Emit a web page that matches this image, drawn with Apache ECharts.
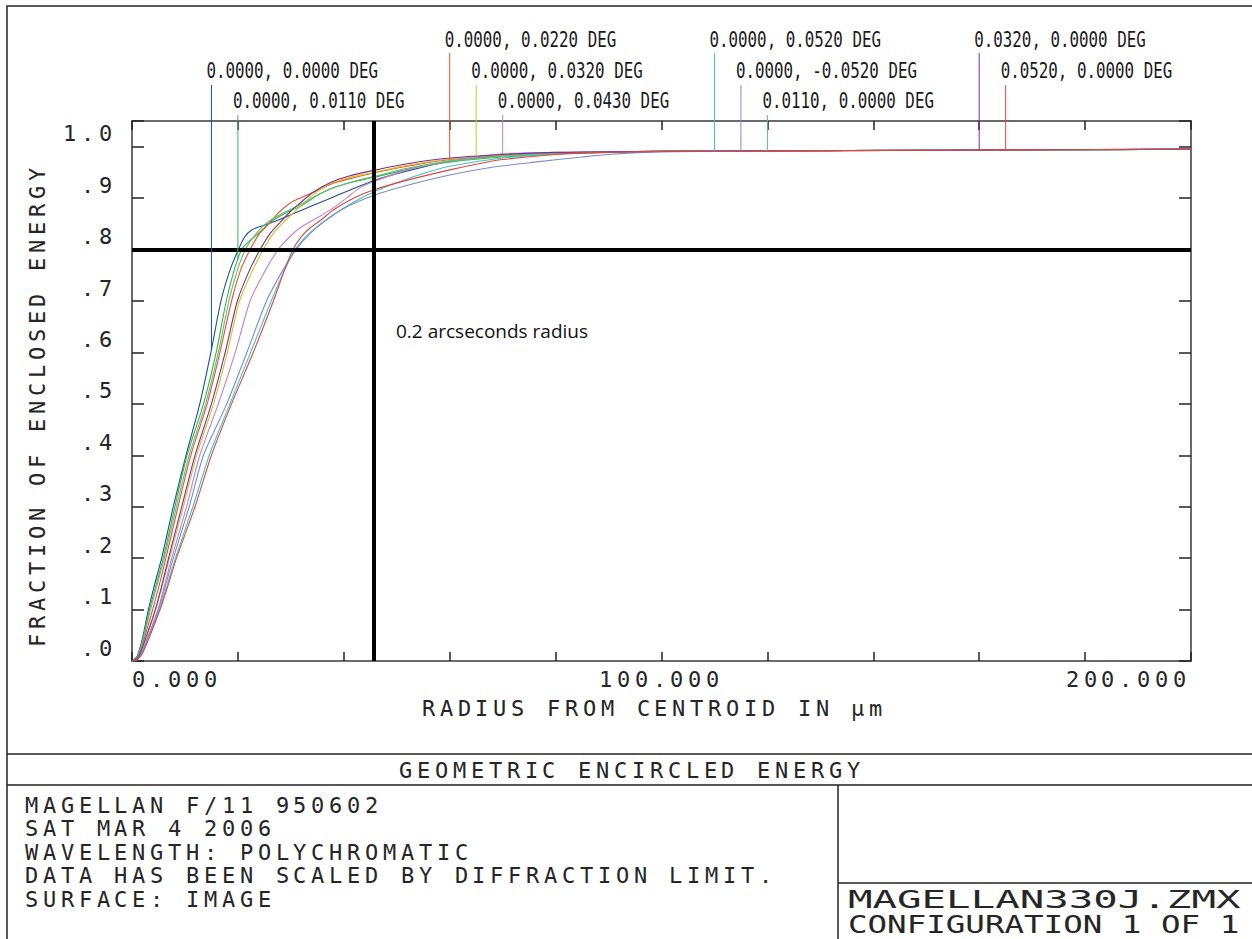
<!DOCTYPE html>
<html><head><meta charset="utf-8">
<script src="https://cdn.jsdelivr.net/npm/echarts@6/dist/echarts.min.js"></script>
<style>
@font-face { font-family: 'ZWide'; src: local('DejaVu Sans Mono'), local('DejaVuSansMono'); }
html,body{margin:0;padding:0;background:#fff;}
#chart{width:1252px;height:939px;}
text[style*="ZWide"], text[font-family*="ZWide"]{letter-spacing:4.9px;}
</style></head><body><div id="chart"></div>
<script>
// ---- data ----
const fieldNames = [
  '0.0000, 0.0000 DEG', '0.0000, 0.0110 DEG', '0.0000, 0.0220 DEG', '0.0000, 0.0320 DEG',
  '0.0000, 0.0430 DEG', '0.0000, 0.0520 DEG', '0.0000, -0.0520 DEG', '0.0110, 0.0000 DEG',
  '0.0320, 0.0000 DEG', '0.0520, 0.0000 DEG'
];
const fieldColors = ['#1b4f9c','#3db34a','#f0502a','#d4c21a','#c282d2','#3cc6c8','#7a8cd0','#5cc07a','#7a2f9a','#e8453c'];

const curveF1 = [[0,0],[1,0.01],[2,0.045],[3.1,0.1],[4.3,0.15],[5.6,0.2],[7.8,0.3],[10.2,0.4],[12.8,0.5],[14.9,0.6],[16.8,0.7],[18.5,0.76],[20.1,0.8],[21.3,0.825],[22.6,0.838],[24.5,0.846],[27.3,0.856],[31.7,0.875],[36.8,0.897],[41.2,0.916],[45.6,0.934],[52,0.953],[60,0.972],[70,0.983],[80,0.988],[90,0.99],[100,0.991],[120,0.992],[150,0.993],[200,0.995]];
const curveF2 = [[0,0],[1,0.008],[2,0.04],[3.3,0.1],[4.6,0.15],[5.9,0.2],[8.1,0.3],[10.4,0.4],[13.5,0.5],[15.9,0.6],[17.8,0.7],[19.3,0.76],[20.7,0.8],[22,0.815],[23.5,0.828],[26,0.852],[28.5,0.868],[31.7,0.884],[35,0.905],[38,0.92],[41.5,0.931],[45.6,0.94],[52,0.956],[60,0.97],[70,0.98],[80,0.986],[90,0.989],[100,0.991],[120,0.992],[150,0.993],[200,0.995]];
const curveF3 = [[0,0],[1,0.006],[2,0.033],[3.9,0.1],[5.2,0.15],[6.4,0.2],[8.7,0.3],[11.1,0.4],[14.2,0.5],[16.6,0.6],[18.8,0.7],[20.5,0.76],[22.3,0.8],[24,0.83],[25.4,0.845],[27.5,0.87],[29.8,0.89],[31.7,0.9],[35,0.915],[38,0.929],[42,0.94],[45.6,0.949],[52,0.962],[60,0.975],[70,0.983],[80,0.988],[90,0.99],[100,0.991],[120,0.992],[150,0.993],[200,0.995]];
const curveF4 = [[0,0],[1,0.005],[2,0.027],[4.5,0.1],[5.8,0.15],[7.1,0.2],[9.7,0.3],[12.2,0.4],[15.4,0.5],[18,0.6],[20.3,0.7],[22.8,0.76],[24.8,0.8],[26.6,0.83],[28.5,0.852],[31.7,0.883],[34,0.905],[36.8,0.925],[41,0.94],[45.6,0.95],[52,0.964],[60,0.976],[65,0.981],[70,0.984],[80,0.988],[90,0.99],[100,0.991],[120,0.992],[150,0.993],[200,0.995]];
const curveF5 = [[0,0],[1,0.004],[2,0.022],[4.9,0.1],[6.2,0.15],[7.5,0.2],[10.3,0.3],[12.8,0.4],[16.3,0.5],[19.5,0.6],[22.3,0.7],[25.2,0.76],[27.6,0.8],[29.5,0.822],[31.7,0.842],[35,0.862],[38,0.881],[40.5,0.9],[43,0.92],[45.6,0.932],[52,0.955],[60,0.972],[70,0.986],[80,0.989],[90,0.99],[100,0.991],[120,0.992],[150,0.993],[200,0.995]];
const curveF6 = [[0,0],[1,0.003],[2,0.017],[5.2,0.1],[6.7,0.15],[8.2,0.2],[11.5,0.3],[14.6,0.4],[18.5,0.5],[22.4,0.6],[26.3,0.7],[28.8,0.76],[30.8,0.8],[32.5,0.822],[35,0.845],[38,0.868],[42,0.893],[45.6,0.912],[50,0.93],[55,0.948],[60,0.962],[70,0.978],[80,0.986],[90,0.989],[100,0.991],[120,0.992],[150,0.993],[200,0.995]];
const curveF7 = [[0,0],[1,0.004],[2,0.02],[5,0.1],[6.4,0.15],[7.8,0.2],[10.8,0.3],[13.5,0.4],[17.9,0.5],[21.7,0.6],[25.4,0.7],[28.5,0.76],[31,0.8],[33.5,0.83],[36,0.852],[40,0.88],[45.6,0.905],[52,0.925],[60,0.945],[68,0.96],[76,0.97],[85,0.98],[90,0.985],[100,0.99],[120,0.992],[150,0.993],[200,0.995]];
const curveF8 = [[0,0],[1,0.007],[2,0.037],[3.5,0.1],[4.8,0.15],[6.1,0.2],[8.4,0.3],[10.8,0.4],[13.9,0.5],[16.3,0.6],[18.3,0.7],[19.9,0.76],[21.4,0.8],[23,0.825],[25,0.848],[28,0.868],[31.7,0.887],[35,0.906],[38,0.92],[42,0.933],[45.6,0.942],[52,0.958],[60,0.972],[70,0.982],[80,0.987],[90,0.99],[100,0.991],[120,0.992],[150,0.993],[200,0.995]];
const curveF9 = [[0,0],[1,0.005],[2,0.028],[4.4,0.1],[5.7,0.15],[6.9,0.2],[9.4,0.3],[11.9,0.4],[15,0.5],[17.6,0.6],[19.9,0.7],[22.2,0.76],[24.2,0.8],[26,0.83],[27.9,0.852],[30,0.875],[31.7,0.89],[34,0.91],[37.4,0.93],[41,0.943],[45.6,0.954],[52,0.967],[60,0.978],[70,0.985],[80,0.989],[90,0.99],[100,0.991],[120,0.992],[150,0.993],[200,0.9955]];
const curveF10 = [[0,0],[1,0.003],[2,0.015],[5.3,0.1],[6.9,0.15],[8.4,0.2],[11.9,0.3],[15,0.4],[18.8,0.5],[22.9,0.6],[26.7,0.7],[28.8,0.76],[30.4,0.8],[32,0.825],[33.6,0.842],[36,0.86],[38,0.877],[41.8,0.9],[45.6,0.916],[52,0.935],[60,0.955],[65,0.966],[70,0.975],[80,0.985],[90,0.989],[100,0.991],[120,0.992],[150,0.993],[200,0.9955]];
const curves = [curveF1,curveF2,curveF3,curveF4,curveF5,curveF6,curveF7,curveF8,curveF9,curveF10];

const refRadius = 45.6;      // thick vertical line (µm)
const refFraction = 0.8;     // thick horizontal line
const refNote = '0.2 arcseconds radius';

const xTickLabelsFmt = v => v.toFixed(3);
const yTickLabelsFmt = v => v > 1.02 ? '' : (v >= 0.995 ? '1.0' : '.' + Math.round(v * 10));

const titleText = 'GEOMETRIC ENCIRCLED ENERGY';
const infoLines = ['MAGELLAN F/11 950602','SAT MAR 4 2006','WAVELENGTH: POLYCHROMATIC','DATA HAS BEEN SCALED BY DIFFRACTION LIMIT.','SURFACE: IMAGE'];
const fileLines = ['MAGELLAN330J.ZMX','CONFIGURATION 1 OF 1'];

// ---- helpers ----
function curveAt(pts, x) {
  for (let k = 1; k < pts.length; k++) {
    if (pts[k][0] >= x) { const a = pts[k-1], b = pts[k]; return a[1] + (b[1]-a[1]) * (x - a[0]) / (b[0] - a[0]); }
  }
  return pts[pts.length-1][1];
}
// leader positions in the ZEMAX style: groups of three, 50 µm apart, 5 µm step
const leaderX = fieldNames.map((_, i) => 10 + 50 * Math.floor((i + 1) / 3) + 5 * ((i + 1) % 3));

const WIDE = "ZWide, 'DejaVu Sans Mono', monospace";
const MONO = "'DejaVu Sans Mono', monospace";
const TXT = '#262626';

const chart = echarts.init(document.getElementById('chart'), null, {renderer: 'svg'});

const frameLine = {color: '#6a6a6a', width: 2};
const tickStyle = {color: '#222', width: 1.5};

const series = curves.map((c, i) => ({
  type: 'line', name: fieldNames[i], data: c, showSymbol: false, smooth: 0.25,
  lineStyle: {color: fieldColors[i], width: 1.1}, itemStyle: {color: fieldColors[i]}, silent: true, z: 2
}));
series.push({
  type: 'line', data: [], silent: true, z: 4,
  markLine: {
    silent: true, symbol: 'none', label: {show: false},
    lineStyle: {color: '#000', width: 4, type: 'solid'},
    data: [{xAxis: refRadius}, {yAxis: refFraction}]
  }
});
series.push({
  type: 'custom', silent: true, z: 5,
  data: fieldNames.map((n, i) => [leaderX[i], curveAt(curves[i], leaderX[i]), i]),
  renderItem(params, api) {
    const i = api.value(2);
    const row = (i + 1) % 3;
    const p = api.coord([api.value(0), api.value(1)]);
    const top = params.coordSys.y;
    const lineTop = top - [68, 36, 6][row];
    const textY = top - [81, 50, 20][row];
    return {type: 'group', children: [
      {type: 'line', shape: {x1: p[0], y1: lineTop, x2: p[0], y2: p[1]}, style: {stroke: fieldColors[i], lineWidth: 1}},
      {type: 'text', x: p[0] - 5, y: textY, scaleX: 0.72,
       style: {text: fieldNames[i], fill: '#1a1a1a', fontSize: 22, fontFamily: MONO, textAlign: 'left', textVerticalAlign: 'middle'}}
    ]};
  }
});

const xCommon = {
  type: 'value', min: 0, max: 200, interval: 100,
  axisLine: {show: true, onZero: false, lineStyle: frameLine},
  axisTick: {show: true, inside: true, length: 9, lineStyle: tickStyle},
  minorTick: {show: true, splitNumber: 5, length: 9, lineStyle: tickStyle},
  splitLine: {show: false}, minorSplitLine: {show: false}
};
const yCommon = {
  type: 'value', min: 0, max: 1.05, interval: 0.1,
  axisLine: {show: true, onZero: false, lineStyle: frameLine},
  axisTick: {show: true, inside: true, length: 12, lineStyle: tickStyle},
  splitLine: {show: false}
};

const gline = (x1, y1, x2, y2) => ({type: 'line', shape: {x1, y1, x2, y2}, style: {stroke: '#222', lineWidth: 1.5}, silent: true});
const graphics = [
  {type: 'rect', shape: {x: 7, y: 6, width: 1260, height: 960}, style: {fill: 'none', stroke: '#222', lineWidth: 1.5}, silent: true},
  gline(7, 754, 1260, 754),
  gline(7, 785, 1260, 785),
  gline(838, 785, 838, 945),
  gline(838, 883, 1260, 883),
  {type: 'text', x: 632, y: 770, style: {text: titleText, fill: TXT, fontSize: 22, fontFamily: WIDE, textAlign: 'center', textVerticalAlign: 'middle'}},
  {type: 'text', x: 396, y: 331, style: {text: refNote, fill: '#111', fontSize: 19, fontFamily: "'Open Sans', sans-serif", textAlign: 'left', textVerticalAlign: 'middle'}}
];
infoLines.forEach((t, k) => graphics.push({type: 'text', x: 25, y: 805 + k * 23.5,
  style: {text: t, fill: TXT, fontSize: 22, fontFamily: WIDE, textAlign: 'left', textVerticalAlign: 'middle'}}));
fileLines.forEach((t, k) => graphics.push({type: 'text', x: 848, y: 899 + k * 25, scaleX: [1.63, 1.30][k],
  style: {text: t, fill: TXT, fontSize: 25, fontFamily: MONO, textAlign: 'left', textVerticalAlign: 'middle'}}));

chart.setOption({
  animation: false,
  backgroundColor: '#fff',
  grid: {left: 132, top: 121, right: 61, bottom: 278, containLabel: false},
  xAxis: [
    Object.assign({}, xCommon, {position: 'bottom',
      axisLabel: {show: true, formatter: xTickLabelsFmt, fontFamily: WIDE, fontSize: 22, color: TXT, margin: 7,
        verticalAlign: 'top', alignMinLabel: 'left', alignMaxLabel: 'right'},
      name: 'RADIUS FROM CENTROID IN µm', nameLocation: 'middle', nameGap: 36,
      nameTextStyle: {fontFamily: WIDE, fontSize: 22, color: TXT, verticalAlign: 'top', padding: [0, 14, 0, 0]}}),
    Object.assign({}, xCommon, {position: 'top', axisLabel: {show: false}})
  ],
  yAxis: [
    Object.assign({}, yCommon, {position: 'left',
      axisLabel: {show: true, formatter: yTickLabelsFmt, fontFamily: WIDE, fontSize: 22, color: TXT, margin: 15,
        verticalAlign: 'bottom', padding: [0, 0, 2, 0]},
      name: 'FRACTION OF ENCLOSED ENERGY', nameLocation: 'middle', nameRotate: 90, nameGap: 84,
      nameTextStyle: {fontFamily: WIDE, fontSize: 22, color: TXT, padding: [0, 28, 0, 0]}}),
    Object.assign({}, yCommon, {position: 'right', axisLabel: {show: false}})
  ],
  series: series,
  graphic: graphics
});
</script></body></html>
